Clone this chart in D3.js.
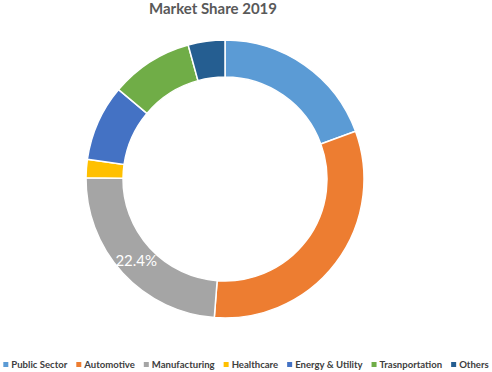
<!DOCTYPE html>
<html>
<head>
<meta charset="utf-8">
<script src="https://cdn.jsdelivr.net/npm/d3@7"></script>
<style>
  body { margin: 0; background: #fff; }
  svg { display: block; font-family: Lato, "Open Sans", sans-serif; }
</style>
</head>
<body>
<div id="chart"></div>
<script>
// Configuration
const WIDTH = 492;
const HEIGHT = 372;
const CX = 225, CY = 179;
const OUTER_R = 139, INNER_R = 102;

// Data (values as shown in the source, %)
const categories = ["Public Sector", "Automotive", "Manufacturing", "Healthcare", "Energy & Utility", "Trasnportation", "Others"];
const values = [18.2, 29.8, 22.4, 2.0, 8.3, 9.0, 4.0];
const colors = ["#5B9BD5", "#ED7D31", "#A5A5A5", "#FFC000", "#4472C4", "#70AD47", "#255E91"];
const labelled = ["Manufacturing"];

const data = categories.map((c, i) => ({ name: c, value: values[i] }));

const color = d3.scaleOrdinal().domain(categories).range(colors);

const svg = d3.select("#chart")
    .append("svg")
    .attr("width", WIDTH)
    .attr("height", HEIGHT);

// Title
svg.append("text")
    .attr("x", 213)
    .attr("y", 14)
    .attr("text-anchor", "middle")
    .attr("font-size", 15)
    .attr("font-weight", "bold")
    .attr("fill", "#595959")
    .text("Market Share 2019");

// Donut
const pie = d3.pie().value(d => d.value).sort(null);
const arc = d3.arc().innerRadius(INNER_R).outerRadius(OUTER_R);

const g = svg.append("g").attr("transform", `translate(${CX},${CY})`);

g.selectAll("path.slice")
    .data(pie(data))
    .enter()
    .append("path")
    .attr("class", "slice")
    .attr("d", arc)
    .attr("fill", d => color(d.data.name))
    .attr("stroke", "#fff")
    .attr("stroke-width", 1.5);

// Data label
g.selectAll("text.lbl")
    .data(pie(data).filter(d => labelled.includes(d.data.name)))
    .enter()
    .append("text")
    .attr("class", "lbl")
    .attr("transform", d => `translate(${arc.centroid(d)})`)
    .attr("text-anchor", "middle")
    .attr("dy", "0.36em")
    .attr("font-size", 15)
    .attr("fill", "#fff")
    .text(d => d.data.value.toFixed(1) + "%");

// Legend
const legend = svg.append("g").attr("transform", "translate(0,365)");
const items = legend.selectAll("g.item")
    .data(categories)
    .enter()
    .append("g")
    .attr("class", "item");

items.append("rect")
    .attr("y", -3)
    .attr("width", 5)
    .attr("height", 5)
    .attr("fill", d => color(d));

const labels = items.append("text")
    .attr("x", 8)
    .attr("dy", "0.35em")
    .attr("font-size", 11)
    .attr("font-weight", "bold")
    .attr("fill", "#404040")
    .text(d => d);

// shrink the legend font so the row fits the same span as the original (~488px)
const gap = 9;
const fixed = categories.length * 8 + (categories.length - 1) * gap;
let textW = 0;
labels.each(function () { textW += this.getComputedTextLength(); });
const fs = Math.min(11, 11 * (486 - fixed) / textW);
labels.attr("font-size", fs);

// lay legend items out in a centred row
let x = 0;
const offsets = [];
items.each(function () {
    offsets.push(x);
    x += 8 + this.querySelector("text").getComputedTextLength() + gap;
});
const total = x - gap;
const start = (WIDTH - total) / 2;
items.attr("transform", (d, i) => `translate(${start + offsets[i]},0)`);
</script>
</body>
</html>
